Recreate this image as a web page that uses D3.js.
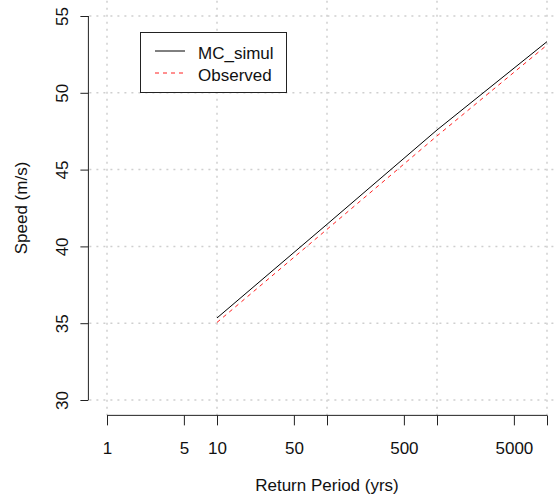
<!DOCTYPE html>
<html>
<head>
<meta charset="utf-8">
<script src="https://cdn.jsdelivr.net/npm/d3@7"></script>
<style>
  body { margin: 0; background: #fff; }
  text { font-family: "Liberation Sans", Arial, sans-serif; fill: #111; }
</style>
</head>
<body>
<div id="chart"></div>
<script>
// data
const periods = [10, 100, 1000, 10000];
const mcSimul = [35.34, 41.44, 47.58, 53.33];
const observed = [35.05, 41.11, 47.19, 53.11];

const seriesNames = ["MC_simul", "Observed"];
const xTicks = [1, 5, 10, 50, 100, 500, 1000, 5000, 10000];
const xTickLabels = ["1", "5", "10", "50", "", "500", "", "5000", ""];
const xGrid = [1, 10, 100, 1000, 10000];
const yTicks = [30, 35, 40, 45, 50, 55];

const W = 557, H = 499;

const svg = d3.select("#chart")
  .append("svg")
    .attr("width", W)
    .attr("height", H);

// scales (R style, 4% padding around data range)
const x = d3.scaleLog().domain([1, 10000]).range([107, 547]);
const y = d3.scaleLinear().domain([30, 55]).range([400, 16]);

const plotLeft = x(Math.pow(10, -0.16)),
      plotRight = x(Math.pow(10, 4.16)),
      plotTop = y(56),
      plotBottom = y(29);

// grid
svg.append("g")
  .selectAll("line")
  .data(xGrid)
  .join("line")
    .attr("x1", d => x(d)).attr("x2", d => x(d))
    .attr("y1", plotTop).attr("y2", plotBottom)
    .attr("stroke", "#cfcfcf")
    .attr("stroke-width", 1.5)
    .attr("stroke-dasharray", "2,5");

svg.append("g")
  .selectAll("line")
  .data(yTicks)
  .join("line")
    .attr("x1", plotLeft).attr("x2", plotRight)
    .attr("y1", d => y(d)).attr("y2", d => y(d))
    .attr("stroke", "#cfcfcf")
    .attr("stroke-width", 1.5)
    .attr("stroke-dasharray", "2,5");

// x axis
const xAxis = svg.append("g")
  .attr("transform", `translate(0,${plotBottom})`)
  .call(d3.axisBottom(x)
    .tickValues(xTicks)
    .tickFormat((d, i) => xTickLabels[i])
    .tickSize(10)
    .tickSizeOuter(0)
    .tickPadding(17));
xAxis.select(".domain").remove();
xAxis.selectAll("line").attr("stroke", "#222");
xAxis.selectAll("text").style("font-size", "17px").style("fill", "#111");
xAxis.append("line")
  .attr("x1", x(1)).attr("x2", x(10000))
  .attr("stroke", "#222");

// y axis
const yAxis = svg.append("g")
  .attr("transform", `translate(${plotLeft - 1},0)`)
  .call(d3.axisLeft(y)
    .tickValues(yTicks)
    .tickSize(8)
    .tickSizeOuter(0));
yAxis.select(".domain").remove();
yAxis.selectAll("line").attr("stroke", "#222");
yAxis.selectAll("text")
  .attr("x", null)
  .attr("dy", null)
  .attr("text-anchor", "middle")
  .attr("transform", "translate(-20,0) rotate(-90)")
  .style("font-size", "17px")
  .style("fill", "#111");
yAxis.append("line")
  .attr("y1", y(30)).attr("y2", y(55))
  .attr("stroke", "#222");

// axis titles
svg.append("text")
  .attr("x", (plotLeft + plotRight) / 2)
  .attr("y", 491)
  .attr("text-anchor", "middle")
  .style("font-size", "17px")
  .text("Return Period (yrs)");

svg.append("text")
  .attr("transform", `translate(27,${(plotTop + plotBottom) / 2}) rotate(-90)`)
  .attr("text-anchor", "middle")
  .style("font-size", "17px")
  .text("Speed (m/s)");

// lines
const line = d3.line()
  .x(d => x(d[0]))
  .y(d => y(d[1]));

svg.append("path")
  .datum(periods.map((p, i) => [p, mcSimul[i]]))
  .attr("fill", "none")
  .attr("stroke", "#000")
  .attr("stroke-width", 1)
  .attr("d", line);

svg.append("path")
  .datum(periods.map((p, i) => [p, observed[i]]))
  .attr("fill", "none")
  .attr("stroke", "#ff2020")
  .attr("stroke-width", 1)
  .attr("stroke-dasharray", "4,4")
  .attr("d", line);

// legend
const legend = svg.append("g");
legend.append("rect")
  .attr("x", 140.5).attr("y", 32.5)
  .attr("width", 146).attr("height", 60)
  .attr("fill", "#fff")
  .attr("stroke", "#222");

const legendY = d3.scalePoint().domain(seriesNames).range([51, 73]);
const legendColor = { "MC_simul": "#000", "Observed": "#ff2020" };
const legendDash = { "MC_simul": null, "Observed": "4,4" };

legend.selectAll("line.key")
  .data(seriesNames)
  .join("line")
    .attr("class", "key")
    .attr("x1", 155).attr("x2", 185)
    .attr("y1", d => legendY(d)).attr("y2", d => legendY(d))
    .attr("stroke", d => legendColor[d])
    .attr("stroke-dasharray", d => legendDash[d]);

legend.selectAll("text")
  .data(seriesNames)
  .join("text")
    .attr("x", 198)
    .attr("y", d => legendY(d) + 7.5)
    .style("font-size", "17px")
    .text(d => d);
</script>
</body>
</html>
